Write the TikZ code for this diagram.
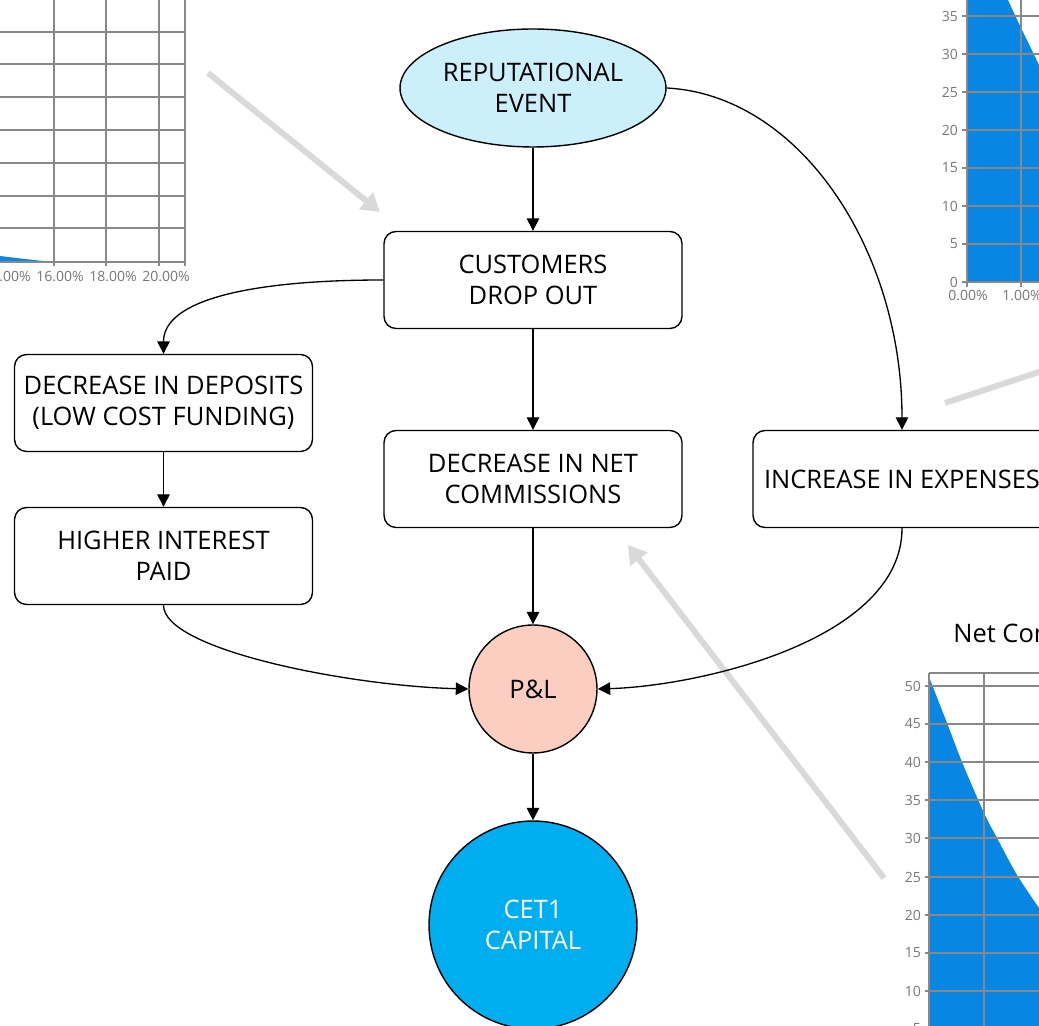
\documentclass[tikz,border=0pt]{standalone}
\usepackage{fontspec}
\setmainfont{Open Sans}
\usetikzlibrary{arrows.meta,shapes.geometric}

\definecolor{eventblue}{RGB}{204,239,252}
\definecolor{pnlpink}{RGB}{252,206,193}
\definecolor{capblue}{RGB}{0,174,239}
\definecolor{chartblue}{RGB}{7,135,227}
\definecolor{gridgray}{RGB}{136,136,136}
\definecolor{labelgray}{RGB}{119,119,119}
\definecolor{hintgray}{RGB}{217,217,217}

\tikzset{
  box/.style={draw,line width=0.8pt,rounded corners=0.24cm,minimum width=5.96cm,
    minimum height=1.94cm,align=center,font=\fontsize{14.5}{17.6}\selectfont},
  flow/.style={line width=0.75pt,-{Triangle[length=0.25cm,width=0.25cm]}},
  hint/.style={hintgray,line width=3.4pt,-{Triangle[length=0.36cm,width=0.42cm]}},
  grid line/.style={gridgray,line width=0.6pt},
  tick label/.style={text=labelgray,font=\fontsize{8}{10}\selectfont,inner sep=1pt}
}

\begin{document}
\begin{tikzpicture}[x=0.02cm,y=-0.02cm]

  \useasboundingbox (0,0) rectangle (1039,1026);
  \clip (0,0) rectangle (1039,1026);

  % chart, top left
  \fill[chartblue] (0,256) -- (20,258.5) -- (48,261.5) -- (0,262.5) -- cycle;
  \foreach \gy in {32,64,97,130,163,196,228}
    \draw[grid line] (0,\gy) -- (185,\gy);
  \foreach \gx in {54,106,159,185}
    \draw[grid line] (\gx,0) -- (\gx,266);
  \draw[grid line] (0,262) -- (185,262);
  \foreach \gx/\lab in {7/14.00\%,60/16.00\%,113/18.00\%,166/20.00\%}
    \node[tick label] at (\gx,277) {\lab};

  % chart, top right
  \fill[chartblue] (967,0) -- (1008,0) .. controls (1017,20) and (1028,42) .. (1039,65)
    -- (1039,282) -- (967,282) -- cycle;
  \foreach \gy/\lab in {16/35,54/30,92/25,130/20,168/15,206/10,244/5,282/0} {
    \draw[grid line] (962,\gy) -- (1039,\gy);
    \node[tick label,anchor=east] at (960,\gy) {\lab};
  }
  \draw[grid line] (967,0) -- (967,287);
  \draw[grid line] (1021,0) -- (1021,287);
  \node[tick label] at (968,296) {0.00\%};
  \node[tick label] at (1022,296) {1.00\%};

  % chart, bottom right
  \node[anchor=west,inner sep=0,font=\fontsize{14.5}{17.6}\selectfont] (charttitle) at (953,633) {Net Commissions};
  \fill[chartblue] plot[smooth] coordinates {(929,677) (947,723) (962,762) (984,813)
    (997,838) (1017,875) (1039,908)} -- (1039,1026) -- (929,1026) -- cycle;
  \foreach \gy/\lab in {686/50,724/45,762/40,800/35,838/30,877/25,915/20,953/15,991/10,1029/5} {
    \draw[grid line] (925,\gy) -- (1039,\gy);
    \node[tick label,anchor=east] at (923,\gy) {\lab};
  }
  \draw[grid line] (929,673) -- (1039,673);
  \draw[grid line] (929,673) -- (929,1026);
  \draw[grid line] (984,673) -- (984,1026);

  % grey pointers
  \draw[hint] (208,73) -- (380,212);
  \draw[hint] (628,545) ++(256,333) -- (628,545);
  \draw[hintgray,line width=3.4pt] (945,403) -- (1045,370);

  % nodes
  \node[draw,line width=0.8pt,ellipse,fill=eventblue,minimum width=5.32cm,minimum height=2.36cm,
    inner sep=0,align=center,font=\fontsize{14.5}{17.6}\selectfont] (event) at (533,88) {REPUTATIONAL\\EVENT};
  \node[box] (drop) at (533,280) {CUSTOMERS\\DROP OUT};
  \node[box] (deposits) at (163.5,403) {DECREASE IN DEPOSITS\\(LOW COST FUNDING)};
  \node[box] (interest) at (163.5,556) {HIGHER INTEREST\\PAID};
  \node[box] (commissions) at (533,479) {DECREASE IN NET\\COMMISSIONS};
  \node[box] (expenses) at (902,479) {INCREASE IN EXPENSES};
  \node[draw,line width=0.8pt,circle,fill=pnlpink,minimum size=2.56cm,inner sep=0,
    font=\fontsize{14.5}{17.6}\selectfont] (pnl) at (533,689) {P\&L};
  \node[draw,line width=0.8pt,circle,fill=capblue,minimum size=4.16cm,inner sep=0,align=center,
    text=white,font=\fontsize{14.5}{17.6}\selectfont] (cet) at (533,925) {CET1\\CAPITAL};

  % connectors
  \draw[flow] (event) -- (drop);
  \draw[flow] (event.east) .. controls (800,95) and (902,250) .. (expenses.north);
  \draw[flow] (drop.west) .. controls (250,280) and (163.5,300) .. (deposits.north);
  \draw[flow] (drop) -- (commissions);
  \draw[flow] (deposits) -- (interest);
  \draw[flow] (interest.south) .. controls (163.5,650) and (350,686) .. (pnl.west);
  \draw[flow] (commissions) -- (pnl);
  \draw[flow] (expenses.south) .. controls (902,640) and (700,686) .. (pnl.east);
  \draw[flow] (pnl) -- (cet);

\end{tikzpicture}
\end{document}
